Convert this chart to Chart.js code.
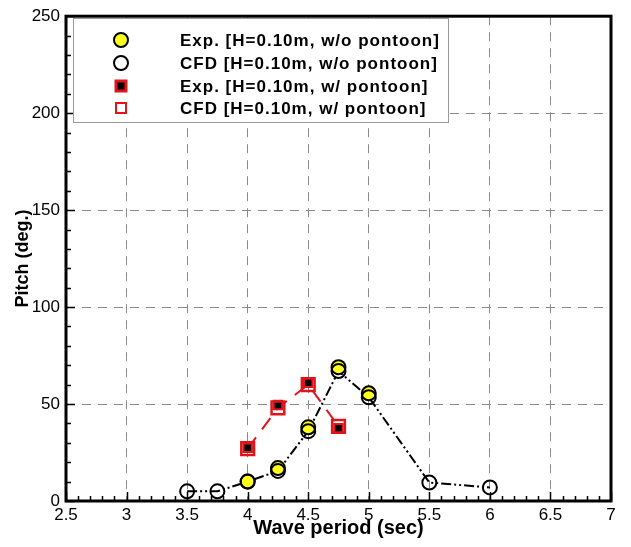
<!DOCTYPE html>
<html>
<head>
<meta charset="utf-8">
<title>Pitch vs wave period</title>
<script src="https://cdn.jsdelivr.net/npm/chart.js@4/dist/chart.umd.min.js"></script>
<style>
  body { margin: 0; background: #fff; }
  canvas { display: block; }
</style>
</head>
<body>
<canvas id="pitchChart" width="631" height="547"></canvas>
<script>
// wave periods (sec) and pitch amplitudes (deg.)
const periodsCfd = [3.5, 3.75, 4.0, 4.25, 4.5, 4.75, 5.0, 5.5, 6.0];
const pitchCfd = [5, 5, 10, 15.5, 36, 67, 53.5, 9.5, 7];
const periodsExp = [4.0, 4.25, 4.5, 4.75, 5.0];
const pitchExp = [10, 17, 38, 69, 55.5];
const periodsPontoon = [4.0, 4.25, 4.5, 4.75];
const pitchExpPontoon = [27.5, 49.5, 61, 37.5];
const pitchCfdPontoon = [27, 48, 60, 38.5];

const xTicks = [2.5, 3, 3.5, 4, 4.5, 5, 5.5, 6, 6.5, 7];
const xTickLabels = ["2.5", "3", "3.5", "4", "4.5", "5", "5.5", "6", "6.5", "7"];
const yTicks = [0, 50, 100, 150, 200, 250];
const yTickLabels = ["0", "50", "100", "150", "200", "250"];

const labels = [
  "Exp. [H=0.10m, w/o pontoon]",
  "CFD [H=0.10m, w/o pontoon]",
  "Exp. [H=0.10m, w/ pontoon]",
  "CFD [H=0.10m, w/ pontoon]"
];

const RED = "#e0141a";
const YELLOW = "#ffff1e";
const FONT = "'Liberation Sans', Arial, sans-serif";
const pts = (xs, ys) => xs.map((x, i) => ({ x, y: ys[i] }));

// minor/major inward ticks plus the heavy frame
const frame = {
  id: "frame",
  beforeDatasetsDraw(chart) {
    const { ctx, chartArea: a, scales: { x, y } } = chart;
    ctx.save();
    ctx.strokeStyle = "#000";
    ctx.lineWidth = 1.5;
    ctx.beginPath();
    for (let v = 2.5; v <= 7.0001; v += 0.1) {
      const px = Math.round(x.getPixelForValue(v)) + 0.5;
      const major = Math.abs(v * 2 - Math.round(v * 2)) < 1e-6;
      ctx.moveTo(px, a.bottom);
      ctx.lineTo(px, a.bottom - (major ? 9 : 5));
    }
    for (let v = 0; v <= 250; v += 10) {
      const py = Math.round(y.getPixelForValue(v)) + 0.5;
      const major = v % 50 === 0;
      ctx.moveTo(a.left, py);
      ctx.lineTo(a.left + (major ? 9 : 5), py);
    }
    ctx.stroke();
    ctx.lineWidth = 3;
    ctx.strokeRect(a.left, a.top, a.right - a.left, a.bottom - a.top);
    ctx.restore();
  }
};

// legend box drawn inside the plot
const innerLegend = {
  id: "innerLegend",
  afterDraw(chart) {
    const ctx = chart.ctx;
    ctx.save();
    ctx.fillStyle = "#fff";
    ctx.fillRect(73, 18, 375, 104);
    ctx.strokeStyle = "#999";
    ctx.lineWidth = 1;
    ctx.strokeRect(73.5, 18.5, 375, 104);
    const rows = [40, 63, 86, 108];
    const mx = 121;
    // yellow filled circle
    ctx.lineWidth = 2;
    ctx.beginPath();
    ctx.arc(mx, rows[0], 7, 0, Math.PI * 2);
    ctx.fillStyle = YELLOW;
    ctx.fill();
    ctx.strokeStyle = "#000";
    ctx.stroke();
    // open circle
    ctx.beginPath();
    ctx.arc(mx, rows[1], 7, 0, Math.PI * 2);
    ctx.stroke();
    // red square with black fill
    ctx.fillStyle = "#000";
    ctx.fillRect(mx - 5, rows[2] - 5, 10, 10);
    ctx.strokeStyle = RED;
    ctx.lineWidth = 3;
    ctx.strokeRect(mx - 5, rows[2] - 5, 10, 10);
    // red open square
    ctx.lineWidth = 2;
    ctx.strokeRect(mx - 5, rows[3] - 5, 10, 10);

    ctx.fillStyle = "#000";
    ctx.font = "bold 17px " + FONT;
    ctx.letterSpacing = "1px";
    ctx.textBaseline = "middle";
    ctx.textAlign = "left";
    labels.forEach((t, i) => ctx.fillText(t, 180, rows[i] + 1));
    ctx.restore();
  }
};

new Chart(document.getElementById("pitchChart"), {
  type: "scatter",
  data: {
    datasets: [
      {
        label: labels[1] + " line",
        data: pts(periodsCfd, pitchCfd),
        showLine: true,
        borderColor: "#000",
        borderWidth: 2,
        borderDash: [10, 3, 2, 3, 2, 3],
        pointRadius: 0,
        order: 6
      },
      {
        label: labels[3] + " line",
        data: pts(periodsPontoon, pitchCfdPontoon),
        showLine: true,
        borderColor: RED,
        borderWidth: 2,
        borderDash: [14, 10],
        pointRadius: 0,
        order: 5
      },
      {
        label: labels[0],
        data: pts(periodsExp, pitchExp),
        pointStyle: "circle",
        pointRadius: 7,
        backgroundColor: YELLOW,
        borderColor: "#000",
        borderWidth: 2,
        order: 4
      },
      {
        label: labels[1],
        data: pts(periodsCfd, pitchCfd),
        pointStyle: "circle",
        pointRadius: 7,
        backgroundColor: "rgba(0,0,0,0)",
        borderColor: "#000",
        borderWidth: 2,
        order: 3
      },
      {
        label: labels[2],
        data: pts(periodsPontoon, pitchExpPontoon),
        pointStyle: "rect",
        pointRadius: 6,
        backgroundColor: "#000",
        borderColor: RED,
        borderWidth: 2,
        order: 2
      },
      {
        label: labels[3],
        data: pts(periodsPontoon, pitchCfdPontoon),
        pointStyle: "rect",
        pointRadius: 9,
        backgroundColor: "rgba(0,0,0,0)",
        borderColor: RED,
        borderWidth: 2.5,
        order: 1
      }
    ]
  },
  options: {
    responsive: false,
    animation: false,
    layout: { padding: { top: 13, right: 20, left: 0, bottom: 0 } },
    plugins: {
      legend: { display: false },
      tooltip: { enabled: false }
    },
    scales: {
      x: {
        type: "linear",
        min: 2.5,
        max: 7,
        afterFit(scale) { scale.height = 46; },
        afterBuildTicks(scale) { scale.ticks = xTicks.map(v => ({ value: v })); },
        grid: {
          color: (c) => (c.tick && (c.tick.value === 2.5 || c.tick.value === 7)) ? "rgba(0,0,0,0)" : "#8a8a8a",
          lineWidth: 1,
          drawTicks: false
        },
        border: { display: false, dash: [9, 7] },
        ticks: {
          color: "#000",
          padding: 4,
          maxRotation: 0,
          callback: (v, i) => xTickLabels[i],
          font: { family: FONT, size: 17 }
        },
        title: {
          display: true,
          text: "Wave period (sec)",
          color: "#000",
          padding: { top: 0, bottom: 7 },
          font: { family: FONT, size: 20, weight: "bold" }
        }
      },
      y: {
        type: "linear",
        min: 0,
        max: 250,
        afterFit(scale) { scale.width = 66; },
        afterBuildTicks(scale) { scale.ticks = yTicks.map(v => ({ value: v })); },
        grid: {
          color: (c) => (c.tick && (c.tick.value === 0 || c.tick.value === 250)) ? "rgba(0,0,0,0)" : "#8a8a8a",
          lineWidth: 1,
          drawTicks: false
        },
        border: { display: false, dash: [9, 7] },
        ticks: {
          color: "#000",
          padding: 6,
          callback: (v, i) => yTickLabels[i],
          font: { family: FONT, size: 17 }
        },
        title: {
          display: true,
          text: "Pitch (deg.)",
          color: "#000",
          padding: { top: 12, bottom: 0 },
          font: { family: FONT, size: 18, weight: "bold" }
        }
      }
    }
  },
  plugins: [frame, innerLegend]
});
</script>
</body>
</html>
